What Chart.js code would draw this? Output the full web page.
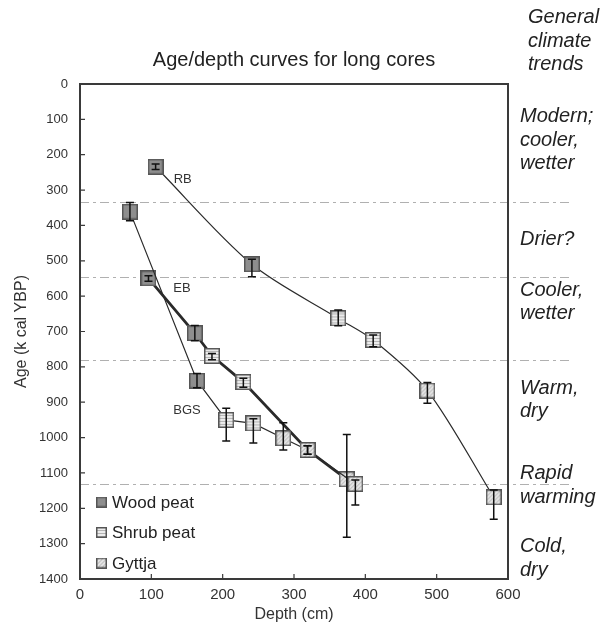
<!DOCTYPE html>
<html>
<head>
<meta charset="utf-8">
<script src="https://cdn.jsdelivr.net/npm/chart.js@4.4.1/dist/chart.umd.min.js"></script>
<style>
  html, body { margin: 0; padding: 0; background: #fff; }
  #wrap { width: 601px; height: 629px; }
</style>
</head>
<body>
<div id="wrap"><canvas id="chart" width="601" height="629"></canvas></div>
<script>
// values: depth (cm), age (cal yr BP), error up / down
const rbDepth = [106, 241, 362, 411, 487, 580];
const rbAge = [234, 510, 663, 724, 867, 1169];
const rbErrUp = [8, 14, 24, 14, 23, 21];
const rbErrDown = [8, 35, 21, 19, 36, 62];
const rbType = ['wood', 'wood', 'shrub', 'shrub', 'gyttja', 'gyttja'];

const ebDepth = [96, 161, 185, 229, 319, 374];
const ebAge = [550, 705, 769, 843, 1035, 1118];
const ebErrUp = [8, 22, 7, 11, 12, 127];
const ebErrDown = [8, 21, 11, 15, 12, 164];
const ebType = ['wood', 'wood', 'shrub', 'shrub', 'gyttja', 'gyttja'];

const bgsDepth = [70, 164, 205, 243, 285, 319, 386];
const bgsAge = [361, 839, 950, 960, 1002, 1035, 1131];
const bgsErrUp = [26, 20, 33, 13, 44, 12, 11];
const bgsErrDown = [26, 20, 60, 55, 33, 12, 60];
const bgsType = ['wood', 'wood', 'shrub', 'shrub', 'gyttja', 'gyttja', 'gyttja'];

const curveNames = ['RB', 'EB', 'BGS'];
const curveLabelDepth = [144, 143, 150];
const curveLabelAge = [270, 578, 924];

// climate period boundaries (dashed lines) and the notes on the right
const boundaryAges = [333, 545, 780, 1132];
const climateNotes = [
    ['General', 'climate', 'trends'],
    ['Modern;', 'cooler,', 'wetter'],
    ['Drier?'],
    ['Cooler,', 'wetter'],
    ['Warm,', 'dry'],
    ['Rapid', 'warming'],
    ['Cold,', 'dry'],
];
const climateNoteAges = [-188, 93, 441, 583, 860, 1102, 1308];

const legendTypes = ['wood', 'shrub', 'gyttja'];
const legendLabels = ['Wood peat', 'Shrub peat', 'Gyttja'];

const xTicks = [0, 100, 200, 300, 400, 500, 600];
const yTicks = [0, 100, 200, 300, 400, 500, 600, 700, 800, 900, 1000, 1100, 1200, 1300, 1400];

const FONT = '"Liberation Sans", Arial, sans-serif';
Chart.defaults.font.family = FONT;
Chart.defaults.color = '#333';

function makeMarker(type, size) {
    const c = document.createElement('canvas');
    c.width = size;
    c.height = size;
    const g = c.getContext('2d');
    if (type === 'wood') {
        g.fillStyle = '#8e8e8e';
        g.fillRect(0, 0, size, size);
    } else {
        g.fillStyle = type === 'shrub' ? '#ececec' : '#e4e4e4';
        g.fillRect(0, 0, size, size);
        g.strokeStyle = '#b4b4b4';
        g.lineWidth = 1;
        g.beginPath();
        if (type === 'shrub') {
            for (let y = 3.5; y < size - 1; y += 3) {
                g.moveTo(1, y); g.lineTo(size - 1, y);
            }
        } else {
            for (let k = -size; k < size; k += 4) {
                g.moveTo(k, size); g.lineTo(k + size, 0);
            }
        }
        g.stroke();
    }
    g.strokeStyle = '#555';
    g.lineWidth = 1.5;
    g.strokeRect(0.75, 0.75, size - 1.5, size - 1.5);
    return c;
}

const markers = {
    wood: makeMarker('wood', 16),
    shrub: makeMarker('shrub', 16),
    gyttja: makeMarker('gyttja', 16),
};
const legendMarkers = {
    wood: makeMarker('wood', 11),
    shrub: makeMarker('shrub', 11),
    gyttja: makeMarker('gyttja', 11),
};

const cores = [
    { depth: rbDepth, age: rbAge, up: rbErrUp, down: rbErrDown, type: rbType, width: 1.2, tension: 0.3 },
    { depth: bgsDepth, age: bgsAge, up: bgsErrUp, down: bgsErrDown, type: bgsType, width: 1.2, tension: 0 },
    { depth: ebDepth, age: ebAge, up: ebErrUp, down: ebErrDown, type: ebType, width: 2.8, tension: 0 },
];

const datasets = cores.map((core, i) => ({
    label: curveNames[i],
    data: core.depth.map((d, j) => ({ x: d, y: core.age[j] })),
    showLine: true,
    borderColor: '#2a2a2a',
    borderWidth: core.width,
    tension: core.tension,
    pointStyle: ctx => markers[core.type[ctx.dataIndex]],
    pointRadius: 8,
}));

const overlay = {
    id: 'overlay',
    beforeDatasetsDraw(chart) {
        const { ctx, chartArea: a, scales: { y } } = chart;
        ctx.save();
        ctx.strokeStyle = '#b0b0b0';
        ctx.lineWidth = 1.2;
        ctx.setLineDash([9, 4, 3, 4]);
        boundaryAges.forEach(age => {
            const py = Math.round(y.getPixelForValue(age)) + 0.5;
            ctx.beginPath();
            ctx.moveTo(a.left, py);
            ctx.lineTo(a.right + 64, py);
            ctx.stroke();
        });
        ctx.restore();
    },
    afterDatasetsDraw(chart) {
        const { ctx, chartArea: a, scales: { x, y } } = chart;
        ctx.save();

        // error bars
        ctx.strokeStyle = '#111';
        ctx.lineWidth = 1.5;
        cores.forEach(core => {
            core.depth.forEach((d, j) => {
                const px = x.getPixelForValue(d);
                const top = y.getPixelForValue(core.age[j] - core.up[j]);
                const bot = y.getPixelForValue(core.age[j] + core.down[j]);
                ctx.beginPath();
                ctx.moveTo(px, top); ctx.lineTo(px, bot);
                ctx.moveTo(px - 4, top); ctx.lineTo(px + 4, top);
                ctx.moveTo(px - 4, bot); ctx.lineTo(px + 4, bot);
                ctx.stroke();
            });
        });

        // frame and inward ticks
        ctx.strokeStyle = '#3a3a3a';
        ctx.lineWidth = 2;
        ctx.strokeRect(a.left, a.top, a.right - a.left, a.bottom - a.top);
        ctx.lineWidth = 1.2;
        ctx.beginPath();
        xTicks.forEach(v => {
            const px = x.getPixelForValue(v);
            ctx.moveTo(px, a.bottom); ctx.lineTo(px, a.bottom - 5);
        });
        yTicks.forEach(v => {
            const py = y.getPixelForValue(v);
            ctx.moveTo(a.left, py); ctx.lineTo(a.left + 5, py);
        });
        ctx.stroke();

        // curve names
        ctx.fillStyle = '#333';
        ctx.font = '13px ' + FONT;
        ctx.textAlign = 'center';
        ctx.textBaseline = 'middle';
        curveNames.forEach((name, i) => {
            ctx.fillText(name, x.getPixelForValue(curveLabelDepth[i]), y.getPixelForValue(curveLabelAge[i]));
        });

        // legend
        ctx.font = '17px ' + FONT;
        ctx.textAlign = 'left';
        ctx.fillStyle = '#222';
        legendLabels.forEach((label, i) => {
            const cy = a.bottom - 16 - 30.5 * (legendLabels.length - 1 - i);
            const m = legendMarkers[legendTypes[i]];
            ctx.drawImage(m, a.left + 16, cy - m.height / 2);
            ctx.fillText(label, a.left + 32, cy + 1);
        });

        // title
        ctx.fillStyle = '#222';
        ctx.font = '20px ' + FONT;
        ctx.textAlign = 'center';
        ctx.fillText('Age/depth curves for long cores', (a.left + a.right) / 2, 60);

        // climate notes
        ctx.font = 'italic 20px ' + FONT;
        ctx.textAlign = 'left';
        climateNotes.forEach((lines, i) => {
            const py = y.getPixelForValue(climateNoteAges[i]);
            const px = i === 0 ? a.right + 20 : a.right + 12;
            lines.forEach((line, k) => ctx.fillText(line, px, py + k * 23.5));
        });
        ctx.restore();
    }
};

new Chart(document.getElementById('chart'), {
    type: 'scatter',
    data: { datasets },
    options: {
        responsive: false,
        animation: false,
        layout: { padding: { top: 84, right: 93, left: 0, bottom: 0 } },
        plugins: {
            legend: { display: false },
            tooltip: { enabled: false },
        },
        scales: {
            x: {
                type: 'linear',
                min: 0,
                max: 600,
                afterFit: s => { s.height = 50; },
                afterBuildTicks: s => { s.ticks = xTicks.map(v => ({ value: v })); },
                ticks: { font: { size: 15 }, color: '#333', padding: 7, callback: v => String(v) },
                grid: { display: false, drawTicks: false },
                border: { display: false },
                title: { display: true, text: 'Depth (cm)', font: { size: 16 }, color: '#333', padding: { top: 0, bottom: 5 } },
            },
            y: {
                type: 'linear',
                reverse: true,
                min: 0,
                max: 1400,
                afterFit: s => { s.width = 80; },
                afterBuildTicks: s => { s.ticks = yTicks.map(v => ({ value: v })); },
                ticks: { font: { size: 13 }, color: '#333', padding: 12, callback: v => String(v) },
                grid: { display: false, drawTicks: false },
                border: { display: false },
                title: { display: true, text: 'Age (k cal YBP)', font: { size: 16 }, color: '#333', padding: { top: 12, bottom: 0 } },
            },
        },
    },
    plugins: [overlay],
});
</script>
</body>
</html>
